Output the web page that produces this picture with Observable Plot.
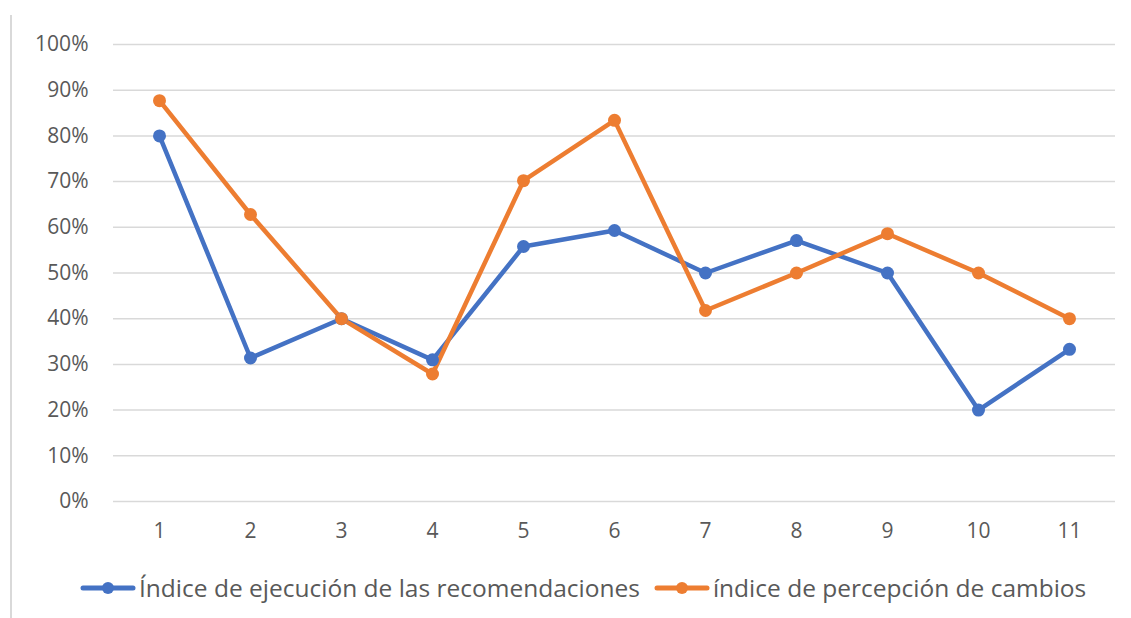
<!DOCTYPE html>
<html>
<head>
<meta charset="utf-8">
<script src="https://cdn.jsdelivr.net/npm/d3@7"></script>
<script src="https://cdn.jsdelivr.net/npm/@observablehq/plot@0.6"></script>
<style>
  html, body { margin: 0; padding: 0; background: #fff; }
  #wrap { position: relative; width: 1131px; height: 618px; overflow: hidden; }
  #border { position: absolute; left: 10px; top: 15px; height: 610px; border-left: 2px solid #d9d9d9; }
  #chart { position: absolute; left: 0; top: 0; }
  #legend { position: absolute; left: 80px; top: 571px; display: flex; align-items: center;
            font-family: "Liberation Sans Narrow", "Open Sans", sans-serif; font-size: 24.5px; color: #595959; white-space: nowrap; }
  .item { display: flex; align-items: center; margin-right: 14px; }
  .item svg { margin-right: 3px; }
</style>
</head>
<body>
<div id="wrap">
  <div id="border"></div>
  <div id="chart"></div>
  <div id="legend"></div>
</div>
<script>
const categories = [1, 2, 3, 4, 5, 6, 7, 8, 9, 10, 11];
const seriesNames = ["Índice de ejecución de las recomendaciones", "índice de percepción de cambios"];
const ejecucionValues = [0.80, 0.314, 0.40, 0.31, 0.558, 0.593, 0.50, 0.571, 0.50, 0.20, 0.333];
const percepcionValues = [0.877, 0.628, 0.40, 0.279, 0.702, 0.834, 0.418, 0.50, 0.586, 0.50, 0.40];
const yTicks = [0, 0.1, 0.2, 0.3, 0.4, 0.5, 0.6, 0.7, 0.8, 0.9, 1.0];
const seriesColors = ["#4472C4", "#ED7D31"];

const data = [];
categories.forEach((c, i) => {
  data.push({x: c, y: ejecucionValues[i], series: seriesNames[0]});
});
categories.forEach((c, i) => {
  data.push({x: c, y: percepcionValues[i], series: seriesNames[1]});
});

const chart = Plot.plot({
  width: 1131,
  height: 550,
  marginTop: 44,
  marginBottom: 49,
  marginLeft: 113,
  marginRight: 16,
  x: {type: "point", domain: categories, padding: 0.5},
  y: {domain: [0, 1]},
  color: {domain: seriesNames, range: seriesColors},
  style: {fontFamily: "'Open Sans', sans-serif", fontSize: "21px", color: "#595959", background: "transparent"},
  marks: [
    Plot.gridY(yTicks, {stroke: "#d9d9d9", strokeOpacity: 1, strokeWidth: 1.5}),
    Plot.axisY(yTicks, {tickSize: 0, tickPadding: 25, tickFormat: d3.format(".0%"), label: null, fill: "#595959", fontSize: 21}),
    Plot.axisX(categories, {tickSize: 0, tickPadding: 22, label: null, fill: "#595959", fontSize: 21}),
    Plot.line(data, {x: "x", y: "y", z: "series", stroke: "series", strokeWidth: 4.5, strokeLinejoin: "round"}),
    Plot.dot(data, {x: "x", y: "y", fill: "series", r: 6.5})
  ]
});
document.getElementById("chart").appendChild(chart);

const legend = d3.select("#legend");
seriesNames.forEach((name, i) => {
  const item = legend.append("div").attr("class", "item");
  const sw = item.append("svg").attr("width", 56).attr("height", 16);
  sw.append("line").attr("x1", 3).attr("x2", 53).attr("y1", 8).attr("y2", 8)
    .attr("stroke", seriesColors[i]).attr("stroke-width", 5).attr("stroke-linecap", "round");
  sw.append("circle").attr("cx", 28).attr("cy", 8).attr("r", 6).attr("fill", seriesColors[i]);
  item.append("span").text(name);
});
</script>
</body>
</html>
